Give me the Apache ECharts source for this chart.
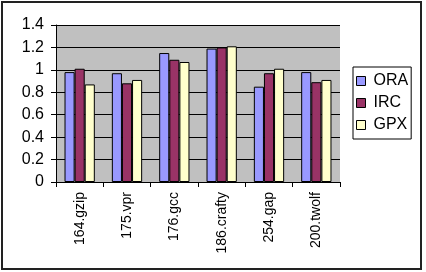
<!DOCTYPE html>
<html>
<head>
<meta charset="utf-8">
<script src="https://cdn.jsdelivr.net/npm/echarts@6/dist/echarts.min.js"></script>
<style>
html, body { margin: 0; padding: 0; background: #fff; }
#chart { width: 426px; height: 272px; }
</style>
</head>
<body>
<div id="chart"></div>
<script>
const categories = ['164.gzip', '175.vpr', '176.gcc', '186.crafty', '254.gap', '200.twolf'];
const oraValues = [0.98, 0.97, 1.15, 1.19, 0.85, 0.98];
const ircValues = [1.01, 0.88, 1.09, 1.20, 0.97, 0.89];
const gpxValues = [0.87, 0.91, 1.07, 1.21, 1.01, 0.91];
const yTicks = [0, 0.2, 0.4, 0.6, 0.8, 1, 1.2, 1.4];

const chart = echarts.init(document.getElementById('chart'));
const font = 'Liberation Sans, Arial, sans-serif';

function barSeries(name, data, color) {
    return {
        name: name,
        type: 'bar',
        data: data,
        barGap: '0%',
        barCategoryGap: '36%',
        itemStyle: { color: color, borderColor: '#000', borderWidth: 1 }
    };
}

chart.setOption({
    animation: false,
    backgroundColor: '#fff',
    graphic: [{
        type: 'rect',
        shape: { x: 2, y: 2, width: 419, height: 267 },
        style: { fill: 'none', stroke: '#222', lineWidth: 2 },
        silent: true
    }],
    grid: { left: 56, right: 86, top: 25, bottom: 90, containLabel: false,
        show: true, backgroundColor: '#c0c0c0', borderWidth: 0 },
    legend: {
        orient: 'vertical',
        left: 353,
        top: 67,
        padding: [6, 3, 6, 3],
        itemGap: 6,
        itemWidth: 9,
        itemHeight: 9,
        borderColor: '#000',
        borderWidth: 1,
        backgroundColor: '#fff',
        textStyle: { fontFamily: font, fontSize: 16, color: '#000', padding: [0, 0, 0, 3] },
        data: ['ORA', 'IRC', 'GPX'].map(n => ({ name: n, icon: 'rect', itemStyle: { borderColor: '#000', borderWidth: 1 } }))
    },
    xAxis: {
        type: 'category',
        data: categories,
        axisLine: { lineStyle: { color: '#000', width: 1 } },
        axisTick: { show: true, alignWithLabel: false, length: 5, lineStyle: { color: '#000' } },
        axisLabel: { rotate: 90, margin: 10, fontFamily: font, fontSize: 14, color: '#000', interval: 0 }
    },
    yAxis: {
        type: 'value',
        min: 0,
        max: 1.4,
        interval: 0.2,
        axisLine: { show: true, lineStyle: { color: '#000', width: 1 } },
        axisTick: { show: true, length: 5, lineStyle: { color: '#000' } },
        axisLabel: { fontFamily: font, fontSize: 16, color: '#000', margin: 12,
            formatter: v => yTicks.includes(Math.round(v * 10) / 10) ? String(Math.round(v * 10) / 10) : '' },
        splitLine: { show: true, lineStyle: { color: '#000', width: 1 } }
    },
    series: [
        barSeries('ORA', oraValues, '#9999ff'),
        barSeries('IRC', ircValues, '#993366'),
        barSeries('GPX', gpxValues, '#ffffcc')
    ]
});
</script>
</body>
</html>
